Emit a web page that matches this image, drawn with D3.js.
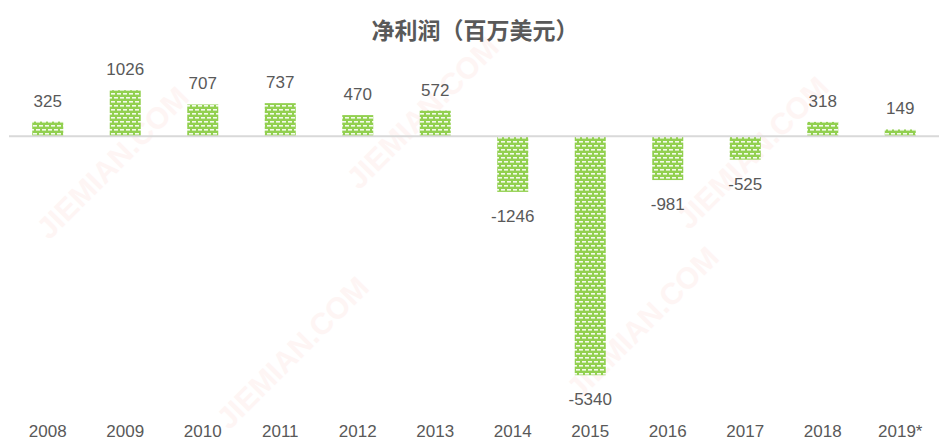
<!DOCTYPE html>
<html><head><meta charset="utf-8">
<script src="https://cdn.jsdelivr.net/npm/d3@7"></script>
<style>body{margin:0;background:#fff}svg{display:block}</style>
</head><body>
<script>
const categories = ["2008","2009","2010","2011","2012","2013","2014","2015","2016","2017","2018","2019*"];
const netIncome = [325,1026,707,737,470,572,-1246,-5340,-981,-525,318,149];
const title = "净利润（百万美元）";

const W = 951, H = 445;
const svg = d3.select("body").append("svg").attr("width", W).attr("height", H);
const defs = svg.append("defs");
const pat = defs.append("pattern").attr("id","brick").attr("patternUnits","userSpaceOnUse")
  .attr("width",6).attr("height",8);
pat.append("rect").attr("width",6).attr("height",8).attr("fill","#92d050");
pat.append("rect").attr("x",0).attr("y",1).attr("width",4).attr("height",1.6).attr("fill","#fff").attr("opacity",0.9);
pat.append("rect").attr("x",3).attr("y",5).attr("width",4).attr("height",1.6).attr("fill","#fff").attr("opacity",0.9);
pat.append("rect").attr("x",-3).attr("y",5).attr("width",4).attr("height",1.6).attr("fill","#fff").attr("opacity",0.9);

// faint watermark
const wm = svg.append("g").attr("fill","#fde3e0").attr("font-family","Liberation Sans, sans-serif").attr("font-weight","bold");
[[120,170],[430,120],[760,160],[300,360],[650,330]].forEach(([x,y])=>{
  wm.append("text").attr("transform",`translate(${x},${y}) rotate(-45)`).attr("font-size",30)
    .attr("text-anchor","middle").attr("opacity",0.35).text("JIEMIAN.COM");
});

const x = d3.scaleBand().domain(categories).range([9, 939]).paddingInner(0.6).paddingOuter(0.3);
const y = d3.scaleLinear().domain([-5340, 1026]).range([375.2, 90.2]);

svg.append("text").attr("x", 475).attr("y", 39).attr("text-anchor","middle")
  .attr("font-family","Noto Sans CJK SC, sans-serif").attr("font-weight","bold")
  .attr("font-size",23).attr("fill","#595959").text(title);

svg.append("g").selectAll("rect").data(netIncome).join("rect")
  .attr("x",(d,i)=>x(categories[i]))
  .attr("width",x.bandwidth())
  .attr("y",d=>y(Math.max(0,d)))
  .attr("height",d=>Math.abs(y(d)-y(0)))
  .attr("fill","url(#brick)");

svg.append("line").attr("x1",9).attr("x2",939).attr("y1",y(0)).attr("y2",y(0))
  .attr("stroke","#d9d9d9").attr("stroke-width",2);

svg.append("g").selectAll("text").data(netIncome).join("text")
  .attr("x",(d,i)=>x(categories[i])+x.bandwidth()/2)
  .attr("y",d=> d>=0 ? y(d)-15 : y(d)+30)
  .attr("text-anchor","middle").attr("font-family","Liberation Sans, sans-serif")
  .attr("font-size",17).attr("fill","#595959").text(d=>d);

const xAxis = d3.axisBottom(x).tickSize(0).tickPadding(0);
const ax = svg.append("g").attr("transform","translate(0,432)").call(xAxis);
ax.select(".domain").remove();
ax.selectAll("text").attr("font-family","Liberation Sans, sans-serif").attr("font-size",17)
  .attr("fill","#595959").attr("dy","0.3em");
</script>
</body></html>
